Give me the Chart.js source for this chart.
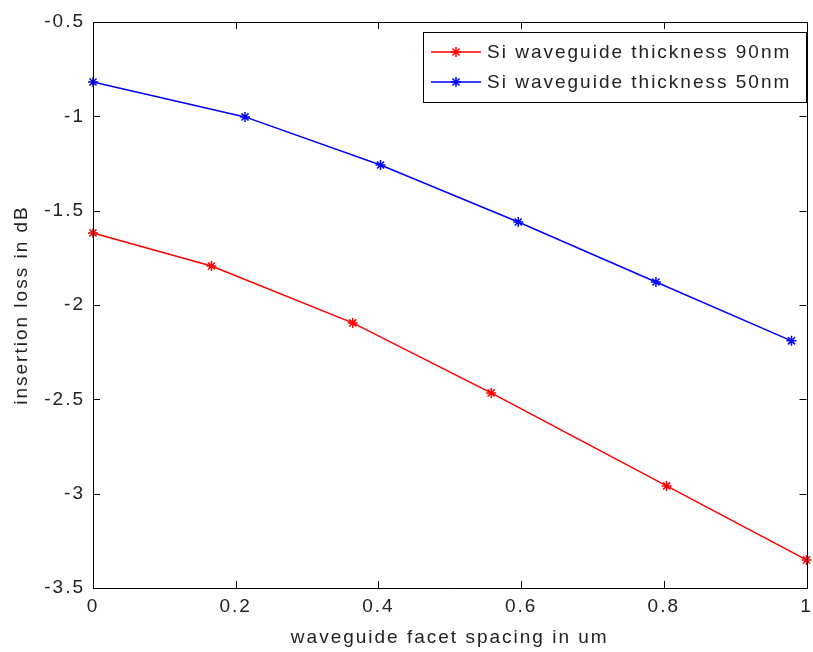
<!DOCTYPE html>
<html>
<head>
<meta charset="utf-8">
<script src="https://cdn.jsdelivr.net/npm/chart.js@4"></script>
<style>
    html, body { margin: 0; padding: 0; background: #fff; }
    #wrap { width: 813px; height: 652px; position: relative; }
</style>
</head>
<body>
<div id="wrap"><canvas id="loss-chart"></canvas></div>
<script>
// facet spacing (um) and insertion loss (dB) for each waveguide thickness
const thick90X = [0, 0.166, 0.364, 0.558, 0.804, 1.0];
const thick90Y = [-1.618, -1.793, -2.095, -2.466, -2.959, -3.351];
const thick50X = [0, 0.213, 0.403, 0.596, 0.789, 0.979];
const thick50Y = [-0.818, -1.003, -1.258, -1.560, -1.878, -2.190];

const seriesLabels = ['Si waveguide thickness 90nm', 'Si waveguide thickness 50nm'];
const seriesColors = ['#ff0000', '#0000ff'];
const xTicks = [0, 0.2, 0.4, 0.6, 0.8, 1];
const yTicks = [-3.5, -3, -2.5, -2, -1.5, -1, -0.5];

const fontFamily = '"Liberation Sans", Arial, sans-serif';

function toPoints(xs, ys) {
    return xs.map((x, i) => ({ x: x, y: ys[i] }));
}

// plain number labels: 1 instead of 1.0
function plainLabel(value) {
    return String(Math.round(value * 10) / 10);
}

// wide letter spacing for all canvas text
const spacingPlugin = {
    id: 'spacing',
    beforeDraw(chart) {
        chart.ctx.letterSpacing = '2px';
    }
};

// axes box with inward ticks on all four sides, plus the boxed legend
const framePlugin = {
    id: 'frame',
    afterDatasetsDraw(chart) {
        const ctx = chart.ctx;
        const { left, right, top, bottom } = chart.chartArea;
        const xs = chart.scales.x, ys = chart.scales.y;
        const tick = 7;
        ctx.save();
        ctx.strokeStyle = '#000';
        ctx.lineWidth = 1;
        ctx.beginPath();
        ctx.rect(Math.round(left) + 0.5, Math.round(top) + 0.5, Math.round(right - left), Math.round(bottom - top));
        xTicks.forEach(v => {
            const px = Math.round(xs.getPixelForValue(v)) + 0.5;
            ctx.moveTo(px, bottom); ctx.lineTo(px, bottom - tick);
            ctx.moveTo(px, top); ctx.lineTo(px, top + tick);
        });
        yTicks.forEach(v => {
            const py = Math.round(ys.getPixelForValue(v)) + 0.5;
            ctx.moveTo(left, py); ctx.lineTo(left + tick, py);
            ctx.moveTo(right, py); ctx.lineTo(right - tick, py);
        });
        ctx.stroke();

        // legend
        const lx = 423, ly = 32, lw = 383, lh = 70;
        ctx.fillStyle = '#fff';
        ctx.fillRect(lx, ly, lw, lh);
        ctx.strokeRect(lx + 0.5, ly + 0.5, lw, lh);
        ctx.font = '19px ' + fontFamily;
        ctx.textBaseline = 'middle';
        ctx.textAlign = 'left';
        seriesLabels.forEach((label, i) => {
            const rowY = ly + 20 + i * 30;
            ctx.strokeStyle = seriesColors[i];
            ctx.lineWidth = 1.5;
            ctx.beginPath();
            ctx.moveTo(lx + 8, rowY);
            ctx.lineTo(lx + 58, rowY);
            ctx.stroke();
            Chart.helpers.drawPoint(ctx, { pointStyle: 'star', radius: 5, borderWidth: 1.5 }, lx + 33, rowY);
            ctx.fillStyle = '#222';
            ctx.fillText(label, lx + 64, rowY + 1);
        });
        ctx.restore();
    }
};

const datasets = [
    { data: toPoints(thick90X, thick90Y), color: seriesColors[0] },
    { data: toPoints(thick50X, thick50Y), color: seriesColors[1] }
].map((s, i) => ({
    label: seriesLabels[i],
    data: s.data,
    borderColor: s.color,
    backgroundColor: s.color,
    borderWidth: 1.5,
    pointStyle: 'star',
    pointRadius: 5,
    pointBorderWidth: 1.5,
    tension: 0,
    clip: false
}));

new Chart(document.getElementById('loss-chart'), {
    type: 'line',
    data: { datasets: datasets },
    options: {
        responsive: true,
        maintainAspectRatio: false,
        animation: false,
        events: [],
        layout: { padding: { top: 22, right: 4, bottom: 0, left: 0 } },
        plugins: {
            legend: { display: false },
            tooltip: { enabled: false }
        },
        scales: {
            x: {
                type: 'linear',
                min: 0,
                max: 1,
                afterBuildTicks(scale) {
                    scale.ticks = xTicks.map(v => ({ value: v }));
                },
                afterFit(scale) {
                    scale.height = 64;
                    scale.paddingLeft = 0;
                    scale.paddingRight = 0;
                },
                grid: { display: false, drawTicks: false },
                border: { display: false },
                ticks: {
                    padding: 7,
                    color: '#222',
                    maxRotation: 0,
                    callback: plainLabel,
                    font: { family: fontFamily, size: 19 }
                },
                title: {
                    display: true,
                    text: 'waveguide facet spacing in um',
                    color: '#222',
                    padding: { top: 0, bottom: 3 },
                    font: { family: fontFamily, size: 19 }
                }
            },
            y: {
                type: 'linear',
                min: -3.5,
                max: -0.5,
                afterBuildTicks(scale) {
                    scale.ticks = yTicks.map(v => ({ value: v }));
                },
                afterFit(scale) {
                    scale.width = 93;
                    scale.paddingTop = 0;
                    scale.paddingBottom = 0;
                },
                grid: { display: false, drawTicks: false },
                border: { display: false },
                ticks: {
                    padding: 8,
                    color: '#222',
                    callback: plainLabel,
                    font: { family: fontFamily, size: 19 }
                },
                title: {
                    display: true,
                    text: 'insertion loss in dB',
                    color: '#222',
                    padding: { top: 10, bottom: 0 },
                    font: { family: fontFamily, size: 19 }
                }
            }
        }
    },
    plugins: [spacingPlugin, framePlugin]
});
</script>
</body>
</html>
